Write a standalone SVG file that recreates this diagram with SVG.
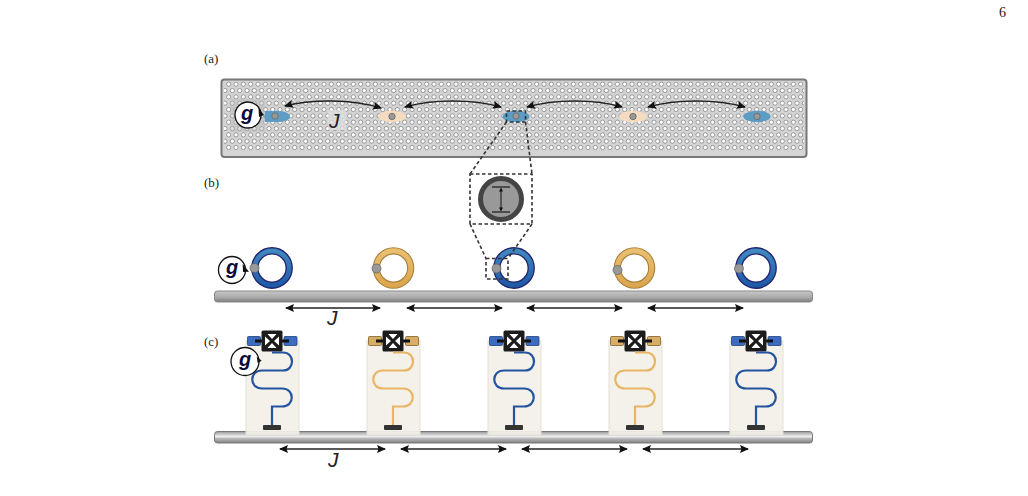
<svg xmlns="http://www.w3.org/2000/svg" width="1028" height="496" viewBox="0 0 1028 496">
<style>
.lab{font-family:"Liberation Serif",serif;font-size:13px;fill:#222}
.j{font-family:"Liberation Sans",sans-serif;font-style:italic;font-size:21px;fill:#222}
.g{font-family:"Liberation Sans",sans-serif;font-style:italic;font-weight:bold;font-size:20px;fill:#0b0b3c;text-anchor:middle}
.arr{fill:none;stroke:#222;stroke-width:1.5;marker-start:url(#as);marker-end:url(#ae)}
.dash{fill:none;stroke:#333;stroke-width:1.6;stroke-dasharray:3.5 2.5}
.dot{fill:#999;stroke:#666;stroke-width:.8}
.gc{fill:#fff;stroke:#111;stroke-width:1.3}
.card{fill:#f3f0e8;stroke:#e4e0d4;stroke-width:1;fill-opacity:.93}
.bk{fill:#333}
.mb{fill:none;stroke:#24549f;stroke-width:2.2}
.mo{fill:none;stroke:#e8b565;stroke-width:2.2}
.pb{fill:#3b6cc0;stroke:#1f3f7a;stroke-width:.8}
.po{fill:#d8ae66;stroke:#7f5f28;stroke-width:.8}
</style>
<defs>
<pattern id="holes" x="225" y="81" width="22" height="38" patternUnits="userSpaceOnUse">
<g fill="#fff" stroke="#777" stroke-width=".7">
<circle cx="3.67" cy="3.2" r="2.1"/><circle cx="11" cy="3.2" r="2.1"/><circle cx="18.33" cy="3.2" r="2.1"/>
<circle cx="0" cy="9.53" r="2.1"/><circle cx="7.33" cy="9.53" r="2.1"/><circle cx="14.67" cy="9.53" r="2.1"/><circle cx="22" cy="9.53" r="2.1"/>
<circle cx="3.67" cy="15.87" r="2.1"/><circle cx="11" cy="15.87" r="2.1"/><circle cx="18.33" cy="15.87" r="2.1"/>
<circle cx="0" cy="22.2" r="2.1"/><circle cx="7.33" cy="22.2" r="2.1"/><circle cx="14.67" cy="22.2" r="2.1"/><circle cx="22" cy="22.2" r="2.1"/>
<circle cx="3.67" cy="28.53" r="2.1"/><circle cx="11" cy="28.53" r="2.1"/><circle cx="18.33" cy="28.53" r="2.1"/>
<circle cx="0" cy="34.87" r="2.1"/><circle cx="7.33" cy="34.87" r="2.1"/><circle cx="14.67" cy="34.87" r="2.1"/><circle cx="22" cy="34.87" r="2.1"/>
</g>
</pattern>
<linearGradient id="bar" x1="0" y1="0" x2="0" y2="1"><stop offset="0" stop-color="#c9c9c9"/><stop offset=".6" stop-color="#a8a8a8"/><stop offset="1" stop-color="#7c7c7c"/></linearGradient>
<linearGradient id="bar2" x1="0" y1="0" x2="0" y2="1"><stop offset="0" stop-color="#999"/><stop offset=".45" stop-color="#f0f0f0"/><stop offset=".6" stop-color="#bbb"/><stop offset="1" stop-color="#808080"/></linearGradient>
<linearGradient id="blue" x1="0" y1="0" x2="0" y2="1"><stop offset="0" stop-color="#3f88c0"/><stop offset="1" stop-color="#1f5aa6"/></linearGradient>
<linearGradient id="orange" x1="0" y1="0" x2="0" y2="1"><stop offset="0" stop-color="#eabf70"/><stop offset="1" stop-color="#dca64f"/></linearGradient>
<marker id="ae" markerWidth="11" markerHeight="9" refX="8" refY="4.5" orient="auto" markerUnits="userSpaceOnUse"><path d="M0 .5L9 4.500L0 8.500L1.500 4.500Z" fill="#111"/></marker>
<marker id="as" markerWidth="11" markerHeight="9" refX="1" refY="4.5" orient="auto" markerUnits="userSpaceOnUse"><path d="M9 .5L0 4.500L9 8.500L7.500 4.500Z" fill="#111"/></marker>
<g id="ringB"><circle r="17.2" fill="none" stroke="#23236f" stroke-width="7.4"/><circle r="17.2" fill="none" stroke="url(#blue)" stroke-width="4.800"/></g>
<g id="ringO"><circle r="17.2" fill="none" stroke="#a8803c" stroke-width="7.2"/><circle r="17.2" fill="none" stroke="url(#orange)" stroke-width="5"/></g>
<g id="chip"><rect x="-10.500" y="-10.500" width="21" height="21" rx="1.500" fill="#1c1c1c"/><path d="M-4.500-7H4.500L0-2ZM-4.500 7H4.500L0 2ZM-7-4.500V4.500L-2 0ZM7-4.500V4.500L2 0Z" fill="#fff"/></g>
<path id="meander" d="M0 11.500H11C23 11.500 23 29.500 11 29.500H-10C-23 29.500-23 47.500-10 47.500H10C23 47.500 23 65.500 10 65.500H0V86"/>
</defs>
<rect width="1028" height="496" fill="#fff"/>
<text class="lab" x="999" y="17" style="font-size:14px">6</text>
<text class="lab" x="204" y="63">(a)</text>
<text class="lab" x="204" y="187">(b)</text>
<text class="lab" x="204" y="346">(c)</text>

<g id="panel-a">
<rect x="221.500" y="79.500" width="585" height="77.500" rx="3" fill="#d4d4d4" stroke="#777" stroke-width="2"/>
<rect x="224" y="81" width="580" height="70" fill="url(#holes)"/>
<rect x="230" y="99" width="35" height="33" fill="#bbb" opacity=".45"/>
<rect x="328" y="110" width="18" height="20" fill="#ddd" opacity=".8"/>
<text class="j" x="329" y="128">J</text>
</g>
<g id="a-g"><circle class="gc" cx="248" cy="115" r="13"/><text class="g" x="247" y="120">g</text><path d="M258.500 108L264 115L259 117Z" fill="#111"/></g>
<g id="a1"><rect x="265" y="111" width="9" height="11" fill="#5d9cc4"/><ellipse cx="277" cy="116.500" rx="13" ry="5.800" fill="#5d9cc4"/><circle class="dot" cx="275" cy="116" r="3.200"/></g>
<g id="a2"><ellipse cx="392" cy="116.500" rx="14" ry="5.800" fill="#f5dcc0"/><circle class="dot" cx="392" cy="116.500" r="3.200"/></g>
<g id="a3"><ellipse cx="516" cy="116.500" rx="13.500" ry="5.800" fill="#5d9cc4"/><circle class="dot" cx="516" cy="116" r="3.200"/></g>
<g id="a4"><ellipse cx="633" cy="116.500" rx="14" ry="5.800" fill="#f5dcc0"/><circle class="dot" cx="633" cy="116.500" r="3.200"/></g>
<g id="a5"><ellipse cx="757" cy="116.500" rx="13.500" ry="5.800" fill="#5d9cc4"/><circle class="dot" cx="757" cy="116.500" r="3.200"/></g>

<g id="b-bar"><rect x="214.500" y="291" width="598" height="11" rx="3" fill="url(#bar)" stroke="#888"/></g>
<g id="b1"><use href="#ringB" x="272" y="268"/><circle class="dot" cx="254.500" cy="268" r="4.500"/></g>
<g id="b-g"><circle class="gc" cx="232" cy="270" r="13.500"/><text class="g" x="232" y="274">g</text><path d="M242.700 264L249 271.700L243 272Z" fill="#111"/></g>
<g id="b2"><use href="#ringO" x="393.500" y="268"/><circle class="dot" cx="376.500" cy="268.500" r="4.500"/></g>
<g id="b3"><use href="#ringB" x="514" y="268"/><circle class="dot" cx="496.500" cy="268.500" r="4.500"/></g>
<g id="b4"><use href="#ringO" x="634.500" y="268"/><circle class="dot" cx="617.500" cy="270" r="4.500"/></g>
<g id="b5"><use href="#ringB" x="756" y="268"/><circle class="dot" cx="739" cy="268.500" r="4.500"/></g>

<g id="inset"><circle cx="501" cy="199" r="20.500" fill="#999" stroke="#444" stroke-width="5"/><path d="M492 187H510M492 212H510" stroke="#333" stroke-width="1.500"/><path d="M501 189V210" fill="none" stroke="#111" stroke-width="1"/><path d="M499 191.500L501 187.500L503 191.500ZM499 207.500L501 211.500L503 207.500Z" fill="#111"/></g>

<g id="c-bar"><rect x="214.500" y="431.500" width="598" height="11.500" rx="3" fill="url(#bar2)" stroke="#777"/></g>
<g id="c1"><rect class="card" x="246" y="341" width="53" height="94"/><rect class="pb" x="247.500" y="336.500" width="13" height="9" rx="1"/><rect class="pb" x="284" y="336.500" width="13" height="9" rx="1"/><path d="M255 341H289" stroke="#111" stroke-width="3"/><use href="#chip" x="272" y="341"/><use href="#meander" class="mb" x="272" y="341"/><rect class="bk" x="263" y="425" width="18" height="5" rx="1"/></g>
<g id="c-g"><circle class="gc" cx="245" cy="361.500" r="14"/><text class="g" x="245" y="366">g</text><path d="M256.700 356.700L261.700 360.700L257.700 363Z" fill="#111"/></g>
<g id="c2"><rect class="card" x="367" y="341" width="53" height="94"/><rect class="po" x="368.500" y="336.500" width="13" height="9" rx="1"/><rect class="po" x="405.500" y="336.500" width="13" height="9" rx="1"/><path d="M376 341H410" stroke="#111" stroke-width="3"/><use href="#chip" x="393" y="341"/><use href="#meander" class="mo" x="393" y="341"/><rect class="bk" x="384" y="425" width="18" height="5" rx="1"/></g>
<g id="c3"><rect class="card" x="488" y="341" width="53" height="94"/><rect class="pb" x="489.500" y="336.500" width="13" height="9" rx="1"/><rect class="pb" x="526" y="336.500" width="13" height="9" rx="1"/><path d="M497 341H531" stroke="#111" stroke-width="3"/><use href="#chip" x="514" y="341"/><use href="#meander" class="mb" x="514" y="341"/><rect class="bk" x="505" y="425" width="18" height="5" rx="1"/></g>
<g id="c4"><rect class="card" x="609" y="341" width="53" height="94"/><rect class="po" x="610.500" y="336.500" width="13" height="9" rx="1"/><rect class="po" x="647.500" y="336.500" width="13" height="9" rx="1"/><path d="M618 341H652" stroke="#111" stroke-width="3"/><use href="#chip" x="635" y="341"/><use href="#meander" class="mo" x="635" y="341"/><rect class="bk" x="626" y="425" width="18" height="5" rx="1"/></g>
<g id="c5"><rect class="card" x="730" y="341" width="53" height="94"/><rect class="pb" x="731.500" y="336.500" width="13" height="9" rx="1"/><rect class="pb" x="768" y="336.500" width="13" height="9" rx="1"/><path d="M739 341H773" stroke="#111" stroke-width="3"/><use href="#chip" x="756" y="341"/><use href="#meander" class="mb" x="756" y="341"/><rect class="bk" x="747" y="425" width="18" height="5" rx="1"/></g>

<g id="connectors">
<path class="arr" d="M285 106C312 99 352 99 381 108"/>
<path class="arr" d="M405 107C432 99 473 99 501 107"/>
<path class="arr" d="M527 107C555 99 595 99 622 107"/>
<path class="arr" d="M648 107C676 99 716 99 745 107"/>
<path class="arr" d="M286 308H380"/><path class="arr" d="M407 308H502"/><path class="arr" d="M527 308H622"/><path class="arr" d="M648 308H743"/>
<path class="arr" d="M280 449H385"/><path class="arr" d="M401 449H506"/><path class="arr" d="M522 449H627"/><path class="arr" d="M643 449H748"/>
<rect class="dash" x="506.500" y="111" width="19" height="11"/>
<rect class="dash" x="470" y="174" width="62" height="50"/>
<rect class="dash" x="486" y="258.500" width="22" height="20.500"/>
<path class="dash" d="M506.500 122L470 174M525.500 122L532 174M470 224L486 258.500M532 224L508 258.500"/>
</g>
<text class="j" x="327" y="325">J</text>
<text class="j" x="328" y="467">J</text>
</svg>
